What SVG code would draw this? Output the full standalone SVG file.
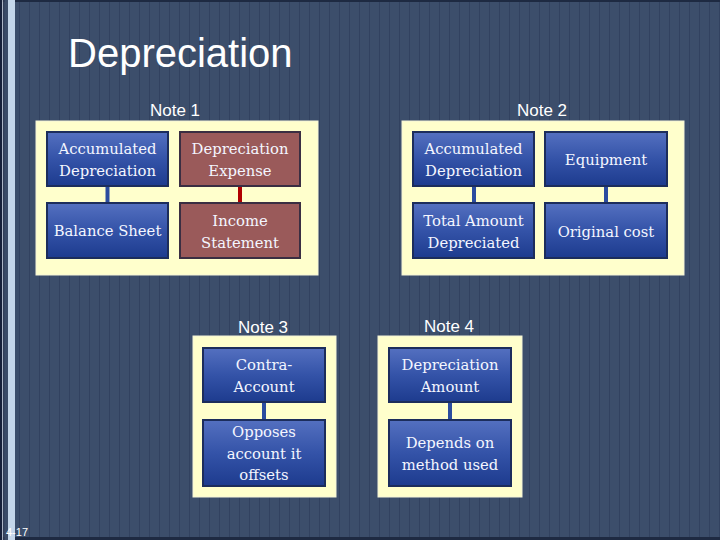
<svg xmlns="http://www.w3.org/2000/svg" width="720" height="540" viewBox="0 0 720 540">
<defs>
<pattern id="stripes" width="10" height="540" patternUnits="userSpaceOnUse" x="0" y="0">
<rect width="10" height="540" fill="#3c4e6b"/>
<rect x="9" width="1.3" height="540" fill="#324260"/>
</pattern>
<linearGradient id="blueGrad" x1="0" y1="0" x2="0" y2="1">
<stop offset="0" stop-color="#5470c0"/>
<stop offset="0.5" stop-color="#3453a8"/>
<stop offset="1" stop-color="#1d3b8e"/>
</linearGradient>
<style>
.title{font-family:"Liberation Sans",Arial,sans-serif;font-size:40px;fill:#ffffff}
.note{font-family:"Liberation Sans",Arial,sans-serif;font-size:17px;fill:#ffffff;text-anchor:middle}
.panel{fill:#ffffcc;stroke:#f4f4d8;stroke-width:1}
.blue{fill:url(#blueGrad);stroke:#1c2d5c;stroke-width:2}
.red{fill:#9a5a5a;stroke:#3a2e42;stroke-width:2}
.lbl{font-family:"DejaVu Serif","Liberation Serif",serif;font-size:14.8px;fill:#f4f6ff;text-anchor:middle}
.cb{stroke:#2b4c9f;stroke-width:4}
.cr{stroke:#b00000;stroke-width:4}
.pg{font-family:"Liberation Sans",Arial,sans-serif;font-size:11px;fill:#ffffff}
</style>
</defs>
<rect width="720" height="540" fill="url(#stripes)"/>
<rect x="0" y="0" width="720" height="2" fill="#1e2a42"/>
<rect x="0" y="537" width="720" height="3" fill="#1e2a42"/>
<rect x="0" y="0" width="2.3" height="540" fill="#16203a"/>
<rect x="2.3" y="0" width="1" height="540" fill="#e0e8f4"/>
<rect x="3.3" y="0" width="1" height="540" fill="#1a2440"/>
<rect x="4.3" y="0" width="3.7" height="540" fill="#3a4b68"/>
<rect x="8" y="0" width="7" height="540" fill="#c4d6ea"/>

<text class="title" x="68" y="67">Depreciation</text>

<g id="note1">
<text class="note" x="175" y="116">Note 1</text>
<rect class="panel" x="36" y="121" width="282" height="154"/>
</g>
<g id="note2">
<text class="note" x="542" y="116">Note 2</text>
<rect class="panel" x="402" y="121" width="282" height="154"/>
</g>
<g id="note3">
<text class="note" x="263" y="333">Note 3</text>
<rect class="panel" x="193" y="336" width="143" height="161"/>
</g>
<g id="note4">
<text class="note" x="449" y="332">Note 4</text>
<rect class="panel" x="378" y="336" width="144" height="161"/>
</g>

<g id="connectors">
<line class="cb" x1="107.5" y1="186" x2="107.5" y2="203"/>
<line class="cr" x1="240" y1="186" x2="240" y2="203"/>
<line class="cb" x1="474" y1="186" x2="474" y2="203"/>
<line class="cb" x1="606" y1="186" x2="606" y2="203"/>
<line class="cb" x1="264" y1="402" x2="264" y2="420"/>
<line class="cb" x1="450" y1="402" x2="450" y2="420"/>
</g>

<g id="n1-accum">
<rect class="blue" x="47" y="132" width="121" height="54"/>
<text class="lbl" x="107.5" y="154">Accumulated</text>
<text class="lbl" x="107.5" y="176">Depreciation</text>
</g>
<g id="n1-expense">
<rect class="red" x="180" y="132" width="120" height="54"/>
<text class="lbl" x="240" y="154">Depreciation</text>
<text class="lbl" x="240" y="176">Expense</text>
</g>
<g id="n1-balance">
<rect class="blue" x="47" y="203" width="121" height="55"/>
<text class="lbl" x="107.5" y="236">Balance Sheet</text>
</g>
<g id="n1-income">
<rect class="red" x="180" y="203" width="120" height="55"/>
<text class="lbl" x="240" y="226">Income</text>
<text class="lbl" x="240" y="248">Statement</text>
</g>

<g id="n2-accum">
<rect class="blue" x="413" y="132" width="121" height="54"/>
<text class="lbl" x="473.5" y="154">Accumulated</text>
<text class="lbl" x="473.5" y="176">Depreciation</text>
</g>
<g id="n2-equip">
<rect class="blue" x="545" y="132" width="122" height="54"/>
<text class="lbl" x="606" y="165">Equipment</text>
</g>
<g id="n2-total">
<rect class="blue" x="413" y="203" width="121" height="55"/>
<text class="lbl" x="473.5" y="226">Total Amount</text>
<text class="lbl" x="473.5" y="248">Depreciated</text>
</g>
<g id="n2-orig">
<rect class="blue" x="545" y="203" width="122" height="55"/>
<text class="lbl" x="606" y="237">Original cost</text>
</g>

<g id="n3-contra">
<rect class="blue" x="203" y="348" width="122" height="54"/>
<text class="lbl" x="264" y="370">Contra-</text>
<text class="lbl" x="264" y="392">Account</text>
</g>
<g id="n3-opposes">
<rect class="blue" x="203" y="420" width="122" height="66"/>
<text class="lbl" x="264" y="437">Opposes</text>
<text class="lbl" x="264" y="459">account it</text>
<text class="lbl" x="264" y="480">offsets</text>
</g>

<g id="n4-amount">
<rect class="blue" x="389" y="348" width="122" height="54"/>
<text class="lbl" x="450" y="370">Depreciation</text>
<text class="lbl" x="450" y="392">Amount</text>
</g>
<g id="n4-method">
<rect class="blue" x="389" y="420" width="122" height="66"/>
<text class="lbl" x="450" y="448">Depends on</text>
<text class="lbl" x="450" y="470">method used</text>
</g>

<text class="pg" x="6" y="536">4-17</text>
</svg>
